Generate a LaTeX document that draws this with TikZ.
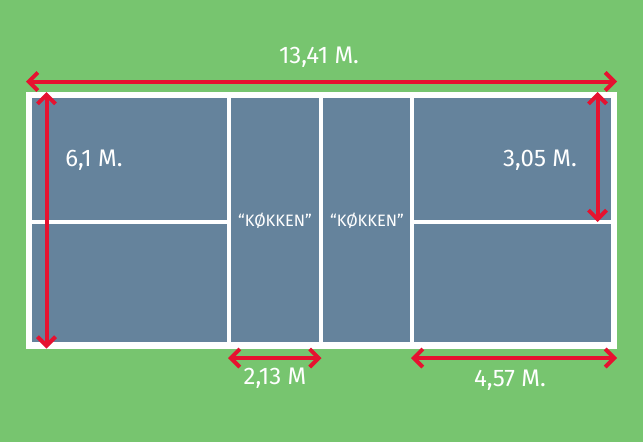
\documentclass[tikz,border=0pt]{standalone}
\usepackage{fontspec}
\setmainfont{Fira Sans}
\usetikzlibrary{arrows.meta}
\definecolor{grass}{RGB}{119,197,111}
\definecolor{courtblue}{RGB}{101,131,156}
\definecolor{dimred}{RGB}{230,18,48}
\begin{document}
\begin{tikzpicture}[x=1pt,y=-1pt,
    dimline/.style={draw=dimred, line width=4pt, {Straight Barb[length=9pt,width=18pt]}-{Straight Barb[length=9pt,width=18pt]}},
    dimlabel/.style={text=white, font=\fontsize{24}{28}\selectfont, inner sep=0pt},
    zonelabel/.style={text=white, font=\fontsize{16.5}{20}\selectfont, inner sep=0pt}]
        \useasboundingbox[fill=grass] (0,0) rectangle (643,442);
        % court
        \fill[white] (26,92) rectangle (617,348.5);
        \fill[courtblue] (32,98) rectangle (227,219.5);
        \fill[courtblue] (32,224) rectangle (227,342);
        \fill[courtblue] (231,98) rectangle (319,342);
        \fill[courtblue] (323,98) rectangle (410,342);
        \fill[courtblue] (414,98) rectangle (611,219.5);
        \fill[courtblue] (414,224) rectangle (611,342);
        % arrow ends
        \coordinate (lenL) at (26,81.5);
        \coordinate (lenR) at (617,81.5);
        \coordinate (widT) at (46.5,92);
        \coordinate (widB) at (46.5,348.5);
        \coordinate (halfT) at (597.5,92);
        \coordinate (halfB) at (597.5,222);
        \coordinate (kitL) at (228,358);
        \coordinate (kitR) at (321.5,358);
        \coordinate (servL) at (411,358);
        \coordinate (servR) at (617,358);
        \draw[dimline] (lenL) -- (lenR);
        \draw[dimline] (widT) -- (widB);
        \draw[dimline] (halfT) -- (halfB);
        \draw[dimline] (kitL) -- (kitR);
        \draw[dimline] (servL) -- (servR);
        % labels
        \node[dimlabel] (length) at (319,57) {13,41 M.};
        \node[dimlabel] (width) at (94,160) {6,1 M.};
        \node[dimlabel] (half) at (540,160) {3,05 M.};
        \node[dimlabel] (kitchen) at (275,378) {2,13 M};
        \node[dimlabel] (service) at (510,380) {4,57 M.};
        \node[zonelabel] (zoneA) at (275,221) {“KØKKEN”};
        \node[zonelabel] (zoneB) at (367,221) {“KØKKEN”};
    \end{tikzpicture}
\end{document}
